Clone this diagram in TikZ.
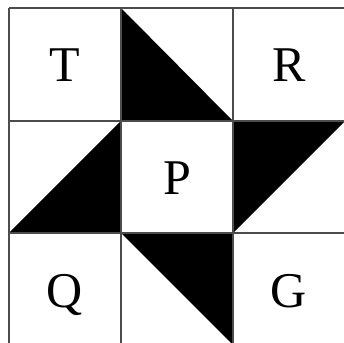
\documentclass[tikz,border=0pt]{standalone}
\usepackage{fontspec}
\setmainfont{Liberation Serif}
\usetikzlibrary{positioning}

\begin{document}
\begin{tikzpicture}[x=1pt,y=1pt,
  grid/.style={draw=black!70,line width=1.2pt},
  tri/.style={fill=black},
  lab/.style={font=\fontsize{50}{60}\selectfont,inner sep=0pt,anchor=base}
]
  \useasboundingbox (0,0) rectangle (344,342);
  \clip (0,0) rectangle (344,342);
  % black triangles
  \fill[tri] (121,334) -- (121,221) -- (233,221) -- cycle;
  \fill[tri] (121,221) -- (9,109) -- (121,109) -- cycle;
  \fill[tri] (233,221) -- (345,221) -- (233,109) -- cycle;
  \fill[tri] (121,109) -- (233,109) -- (233,-3) -- cycle;
  % grid
  \foreach \x in {9,121,233,345} \draw[grid] (\x,334) -- (\x,-3);
  \foreach \y in {334,221,109} \draw[grid] (9,\y) -- (345,\y);
  % letters
  \node[lab] (t) at (65,260) {T};
  \node[lab] (r) at (289,260) {R};
  \node[lab] (p) at (177,147) {P};
  \node[lab] (q) at (65,35) {Q};
  \node[lab] (g) at (289,35) {G};
\end{tikzpicture}
\end{document}
